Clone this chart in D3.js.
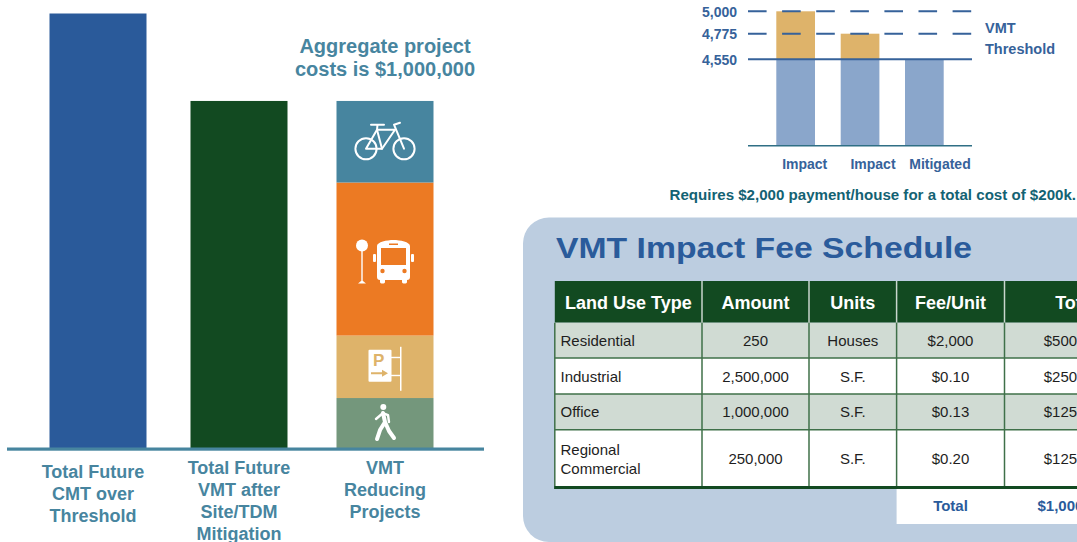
<!DOCTYPE html>
<html><head><meta charset="utf-8">
<script src="https://cdn.jsdelivr.net/npm/d3@7"></script>
<style>html,body{margin:0;padding:0;background:#fff;overflow:hidden}svg{display:block}text{font-family:"Liberation Sans",Arial,sans-serif}</style>
</head><body><svg id="c" width="1077" height="542"></svg>
<script>
// ---- data ----
const mainCategories = ["Total Future VMT over threshold", "After mitigation", "VMT reducing projects"];
const mainValues = [1252000, 1000000];
const mainLabels = [["Total Future","CMT over","Threshold"],["Total Future","VMT after","Site/TDM","Mitigation"],["VMT","Reducing","Projects"]];
const projectKeys = ["walk","parking","bus","bike"];
const projectValues = [144000,180000,441000,235000];
const mainColors = ["#2a5a9a","#124a21"];
const projectColors = ["#74977c","#deb36a","#ec7a23","#47859f"];
const aggregateNote = ["Aggregate project","costs is $1,000,000"];

const miniCategories = ["Impact A","Impact B","Mitigated"];
const miniLabels = ["Impact","Impact","Mitigated"];
const miniBase = [4550,4550,4550];
const miniImpact = [5000,4775,4550];
const miniTicks = [5000,4775,4550];
const thresholdLabel = ["VMT","Threshold"];
const miniNote = "Requires $2,000 payment/house for a total cost of $200k.";

const tableTitle = "VMT Impact Fee Schedule";
const tableHead = ["Land Use Type","Amount","Units","Fee/Unit","Total"];
const landUse = [["Residential"],["Industrial"],["Office"],["Regional","Commercial"]];
const amounts = ["250","2,500,000","1,000,000","250,000"];
const units = ["Houses","S.F.","S.F.","S.F."];
const fees = ["$2,000","$0.10","$0.13","$0.20"];
const totals = ["$500,000","$250,000","$125,000","$125,000"];
const grandTotal = ["Total","$1,000,000"];

// ---- setup ----
const svg = d3.select("#c");
const TEAL="#47859f", BLUE="#36629a", DGREEN="#124a21", LINE="#3f7049";

function lines(g, arr, x, y0, dy, o){
  g.selectAll(null).data(arr).join("text")
   .attr("x",x).attr("y",(d,i)=>y0+i*dy)
   .attr("text-anchor",o.anchor||"middle").attr("font-size",o.size)
   .attr("font-weight",o.weight||"bold").attr("fill",o.fill).text(d=>d);
}

// ---- main bars ----
const yMain = d3.scaleLinear().domain([0,1252000]).range([448,13.5]);
const xMain = d3.scaleOrdinal().domain(mainCategories).range([49.5,190.5,336.5]);
const barW = 97;
const gMain = svg.append("g");
gMain.selectAll(".b").data(mainValues).join("rect").attr("class","b")
  .attr("x",(d,i)=>xMain(mainCategories[i])).attr("width",barW)
  .attr("y",d=>yMain(d)).attr("height",d=>yMain(0)-yMain(d))
  .attr("fill",(d,i)=>mainColors[i]);

const row = Object.fromEntries(projectKeys.map((k,i)=>[k,projectValues[i]]));
const stacked = d3.stack().keys(projectKeys)([row]);
const x3 = xMain(mainCategories[2]);
gMain.selectAll(".s").data(stacked).join("rect").attr("class","s")
  .attr("x",x3).attr("width",barW)
  .attr("y",d=>yMain(d[0][1])).attr("height",d=>yMain(d[0][0])-yMain(d[0][1]))
  .attr("fill",(d,i)=>projectColors[i]);

gMain.append("rect").attr("x",7).attr("width",477).attr("y",yMain(0)-0.5).attr("height",3.2).attr("fill",TEAL);

// icons (local glyph geometry, centred on each stack segment)
const cx = x3+barW/2;
const seg = k => { const s=stacked.find(d=>d.key===k)[0]; return (yMain(s[0])+yMain(s[1]))/2; };
const icon = (k,dy)=>svg.append("g").attr("transform",`translate(${cx},${seg(k)+dy})`).attr("fill","none").attr("stroke","#fff").attr("stroke-linecap","round").attr("stroke-linejoin","round");

const bike = icon("bike",0);
bike.attr("stroke-width",2);
bike.append("circle").attr("cx",-19).attr("cy",7).attr("r",10.6);
bike.append("circle").attr("cx",19).attr("cy",7).attr("r",10.6);
bike.append("path").attr("d","M-19 7L-8 -12L10 -12L-3 7Z");
bike.append("path").attr("d","M-8 -12L-7.5 -17M-14 -17H-1M-3 7L-8 -12M19 7L9 -17M9 -17L15 -19");

const bus = icon("bus",1);
const busFill = bus.append("g").attr("stroke","none").attr("fill","#fff");
busFill.append("circle").attr("cx",-23).attr("cy",-14.5).attr("r",6);
busFill.append("rect").attr("x",-23.7).attr("y",-10).attr("width",1.4).attr("height",33);
busFill.append("path").attr("d","M-27 23.5L-24 21H-22L-19 23.5Z");
busFill.append("path").attr("fill-rule","evenodd").attr("d","M-8 -14C-8 -18 2 -20 8.5 -20C15 -20 25 -18 25 -14V17C25 19 24 20 22 20V22C22 24 17 24 17 22V20H0V22C0 24 -5 24 -5 22V20C-7 20 -8 19 -8 17ZM-4 -12V5H21V-12ZM4 -16.5V-15H13V-16.5Z");
busFill.append("rect").attr("x",-12).attr("y",-6).attr("width",3).attr("height",8).attr("rx",1);
busFill.append("rect").attr("x",26).attr("y",-6).attr("width",3).attr("height",8).attr("rx",1);
bus.append("g").attr("stroke","none").attr("fill","#ec7a23").selectAll("circle").data([-4,21]).join("circle").attr("cx",d=>d-(d<0?-1.5:1.5)).attr("cy",11).attr("r",2.2);

const park = icon("parking",0);
const pf = park.append("g").attr("stroke","none").attr("fill","#fff");
pf.append("rect").attr("x",-16.5).attr("y",-17).attr("width",23).attr("height",32).attr("rx",1);
pf.append("rect").attr("x",15).attr("y",-20).attr("width",1.5).attr("height",44);
pf.append("rect").attr("x",6).attr("y",-10).attr("width",9).attr("height",1.4);
pf.append("rect").attr("x",6).attr("y",8).attr("width",9).attr("height",1.4);
park.append("text").attr("x",-12).attr("y",-1).attr("stroke","none").attr("fill","#deb36a").attr("font-size",17).attr("font-weight","bold").text("P");
park.append("path").attr("stroke","none").attr("fill","#deb36a").attr("d","M-14 5.5H-3V3L3 6.5L-3 10V7.5H-14Z");

const walk = icon("walk",0);
walk.append("circle").attr("cx",-1.7).attr("cy",-16).attr("r",3).attr("fill","#fff").attr("stroke","none");
walk.append("path").attr("stroke-width",4).attr("d","M-2 -10L0 -1L-5 7L-8 16M0 -1L4 8L9 15");
walk.append("path").attr("stroke-width",2.4).attr("d","M-2 -10L-9 -4M-2 -10L3 -8L4 -1");

lines(svg,aggregateNote,385,52.7,23.3,{size:20,fill:TEAL});
const labelY=[477.5,474,474];
mainLabels.forEach((l,i)=>lines(svg,l,xMain(mainCategories[i])+barW/2-(i===0?5:i===1?0:0),labelY[i],22,{size:18,fill:TEAL}));

// ---- mini chart ----
const yMini = d3.scaleLinear().domain([0,4550,4775,5000]).range([145.7,59.3,33.7,11.3]);
const xMini = d3.scaleOrdinal().domain(miniCategories).range([776.3,840.7,905]);
const miniW = 38.7;
const gm = svg.append("g");
gm.selectAll(".u").data(miniImpact).join("rect").attr("x",(d,i)=>xMini(miniCategories[i])).attr("width",miniW)
  .attr("y",d=>yMini(d)).attr("height",d=>yMini(4550)-yMini(d)).attr("fill","#deb36a");
gm.selectAll(".l").data(miniBase).join("rect").attr("x",(d,i)=>xMini(miniCategories[i])).attr("width",miniW)
  .attr("y",d=>yMini(d)).attr("height",d=>yMini(0)-yMini(d)).attr("fill","#8aa6cb");
const lineX=[748,972];
miniTicks.forEach((t,i)=>{
  gm.append("line").attr("x1",lineX[0]).attr("x2",lineX[1]).attr("y1",yMini(t)).attr("y2",yMini(t))
    .attr("stroke","#36629a").attr("stroke-width",2).attr("stroke-dasharray",i<2?"18.6 15.5":null);
});
gm.append("line").attr("x1",lineX[0]).attr("x2",lineX[1]).attr("y1",yMini(0)).attr("y2",yMini(0)).attr("stroke","#2f6f85").attr("stroke-width",1.6);
gm.selectAll(".l").raise();
const ax = gm.append("g").attr("transform","translate(737,0)").call(d3.axisLeft(yMini).tickValues(miniTicks).tickSize(0).tickPadding(0).tickFormat(d3.format(",")));
ax.select(".domain").remove();
ax.selectAll("text").attr("font-size",14).attr("font-weight","bold").attr("fill",BLUE).attr("font-family",'"Liberation Sans"').attr("dy","5");
const miniLabelX=[804.7,873,940];
miniLabels.forEach((l,i)=>gm.append("text").attr("x",miniLabelX[i]).attr("y",169).attr("text-anchor","middle").attr("font-size",14).attr("font-weight","bold").attr("fill",BLUE).text(l));
lines(gm,thresholdLabel,985,32.7,21.3,{size:14.5,anchor:"start",fill:BLUE});
gm.append("text").attr("x",669.5).attr("y",199.5).attr("font-size",14).attr("font-weight","bold").attr("fill","#136273").attr("textLength",406.5).attr("lengthAdjust","spacingAndGlyphs").text(miniNote);

// ---- table ----
const gt = svg.append("g");
gt.append("rect").attr("x",523).attr("y",217.5).attr("width",620).attr("height",324.5).attr("rx",26).attr("fill","#bccde0");
gt.append("text").attr("x",556).attr("y",258).attr("font-size",30).attr("font-weight","bold").attr("fill","#2a5b9b").attr("textLength",416).attr("lengthAdjust","spacingAndGlyphs").text(tableTitle);

const colX=[554.8,702,809,896.6,1004.5,1150];
const rowY=[281,322.7,358,394,429.7,486];
const colC=[0,755.5,852.8,950.5,1075];
// header
gt.append("rect").attr("x",colX[0]).attr("y",rowY[0]).attr("width",colX[5]-colX[0]).attr("height",rowY[1]-rowY[0]).attr("fill",DGREEN);
colX.slice(1,5).forEach(x=>gt.append("line").attr("x1",x).attr("x2",x).attr("y1",rowY[0]).attr("y2",rowY[1]).attr("stroke","#c9d6cd").attr("stroke-width",1.5));
const headX=[565,755.5,852.8,950.5,1076];
tableHead.forEach((h,i)=>gt.append("text").attr("x",headX[i]).attr("y",308.5).attr("text-anchor",i?"middle":"start").attr("font-size",18).attr("font-weight","bold").attr("fill","#fff").text(h));
// rows
landUse.forEach((l,r)=>{
  gt.append("rect").attr("x",colX[0]).attr("y",rowY[r+1]).attr("width",colX[5]-colX[0]).attr("height",rowY[r+2]-rowY[r+1]).attr("fill",r%2?"#fff":"#d0dbd3");
});
rowY.slice(2,5).forEach(y=>gt.append("line").attr("x1",colX[0]).attr("x2",1077).attr("y1",y).attr("y2",y).attr("stroke",LINE).attr("stroke-width",1.5));
colX.slice(0,5).forEach(x=>gt.append("line").attr("x1",x).attr("x2",x).attr("y1",rowY[1]).attr("y2",rowY[5]).attr("stroke",LINE).attr("stroke-width",1.5));
gt.append("rect").attr("x",colX[0]-0.7).attr("y",rowY[5]).attr("width",colX[5]-colX[0]).attr("height",3).attr("fill",DGREEN);
const baseY=[345.7,381.5,417,464];
const bodyStyle=(s,anchor)=>s.attr("font-size",15).attr("fill","#1e1e1e").attr("text-anchor",anchor);
landUse.forEach((l,r)=>{
  const ys = l.length>1?[455,473.7]:[baseY[r]];
  l.forEach((t,j)=>bodyStyle(gt.append("text").attr("x",560.5).attr("y",ys[j]),"start").text(t));
  [amounts,units,fees,totals].forEach((col,c)=>bodyStyle(gt.append("text").attr("x",colC[c+1]).attr("y",baseY[r]),"middle").text(col[r]));
});
// total
gt.append("rect").attr("x",colX[3]).attr("y",rowY[5]+3).attr("width",colX[5]-colX[3]).attr("height",35).attr("fill","#fff");
grandTotal.forEach((t,i)=>gt.append("text").attr("x",i?colC[4]:colC[3]).attr("y",511).attr("text-anchor","middle").attr("font-size",15).attr("font-weight","bold").attr("fill","#2a5b9b").text(t));
</script></body></html>
